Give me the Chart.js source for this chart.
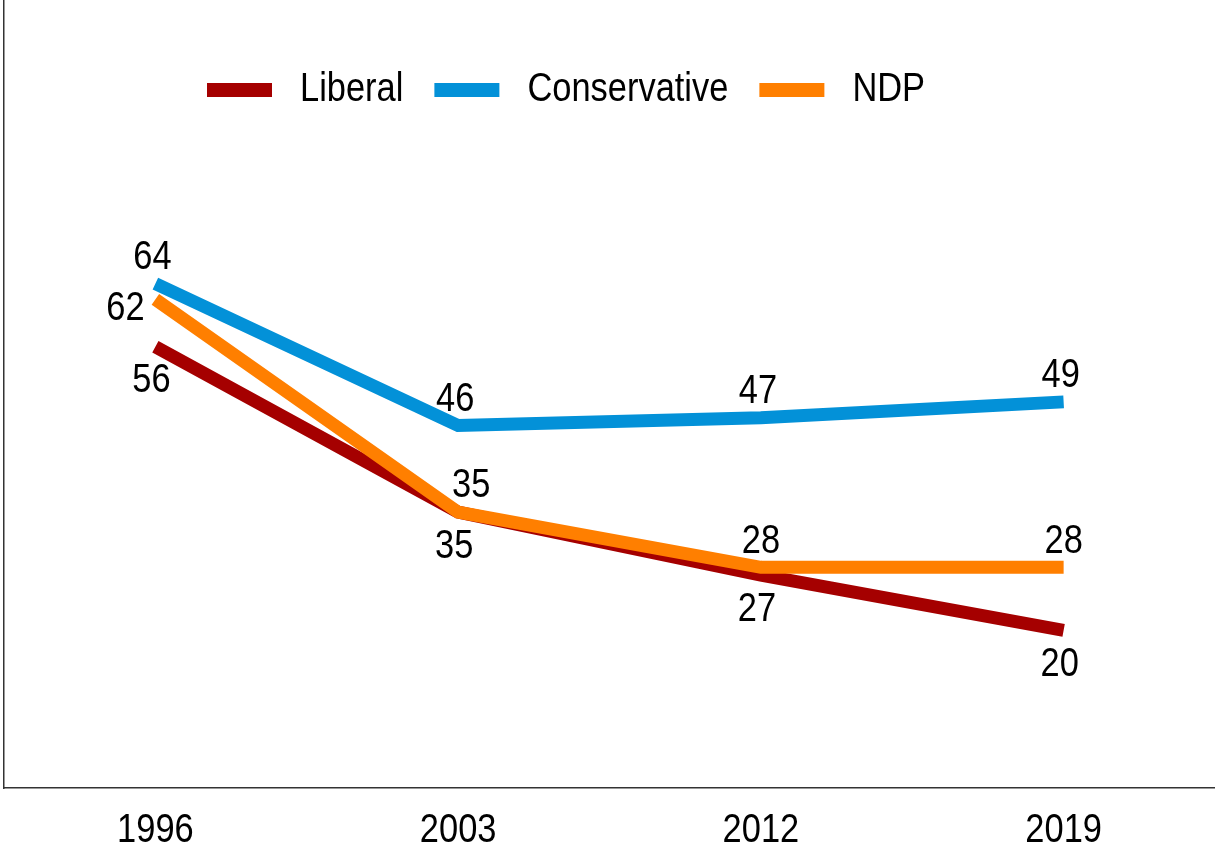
<!DOCTYPE html>
<html>
<head>
<meta charset="utf-8">
<script src="https://cdn.jsdelivr.net/npm/chart.js@4"></script>
<style>
	html, body { margin: 0; padding: 0; background: #fff; }
	#wrap { width: 1215px; height: 855px; }
</style>
</head>
<body>
<div id="wrap"><canvas id="chart"></canvas></div>
<script>
const years = ["1996", "2003", "2012", "2019"];
const liberal = [56, 35, 27, 20];
const conservative = [64, 46, 47, 49];
const ndp = [62, 35, 28, 28];

const FONT = "41px 'Liberation Sans', Arial, sans-serif";
const NARROW = 0.84; // squeeze text horizontally for a condensed look

// where each value label sits relative to its point
const labelPos = {
	Liberal: () => ({ dx: -4, dy: 34 }),
	Conservative: () => ({ dx: -3, dy: -26 }),
	NDP: (i) => i === 0 ? { dx: -30, dy: 9 } : (i === 1 ? { dx: 13, dy: -27 } : { dx: 0, dy: -26 })
};

function narrowText(ctx, text, x, y, align) {
	ctx.save();
	ctx.font = FONT;
	ctx.fillStyle = "#000";
	ctx.textBaseline = "middle";
	ctx.textAlign = align || "center";
	ctx.translate(x, y);
	ctx.scale(NARROW, 1);
	ctx.fillText(text, 0, 0);
	let w = ctx.measureText(text).width * NARROW;
	ctx.restore();
	return w;
}

const valueLabels = {
	id: "valueLabels",
	afterDatasetsDraw(chart) {
		chart.data.datasets.forEach((ds, di) => {
			let meta = chart.getDatasetMeta(di);
			meta.data.forEach((pt, i) => {
				let p = labelPos[ds.label](i);
				narrowText(chart.ctx, String(ds.data[i]), pt.x + p.dx, pt.y + p.dy);
			});
		});
	}
};

// category labels under the x axis
const yearLabels = {
	id: "yearLabels",
	afterDraw(chart) {
		let sx = chart.scales.x;
		sx.ticks.forEach((t, i) => {
			narrowText(chart.ctx, sx.getLabelForValue(t.value), sx.getPixelForTick(i), sx.bottom + 43);
		});
	}
};

// legend drawn over the plot area, line swatches then names
const lineLegend = {
	id: "lineLegend",
	afterDraw(chart) {
		let ctx = chart.ctx;
		let x = 207, y = 90;
		chart.data.datasets.forEach((ds) => {
			ctx.fillStyle = ds.borderColor;
			ctx.fillRect(x, y - 7, 65, 14);
			let w = narrowText(ctx, ds.label, x + 93, y, "left");
			x += 93 + w + 31;
		});
	}
};

function series(label, data, color, order) {
	return {
		label: label,
		data: data,
		borderColor: color,
		backgroundColor: color,
		borderWidth: 13,
		borderCapStyle: "butt",
		borderJoinStyle: "miter",
		pointRadius: 0,
		tension: 0,
		fill: false,
		order: order
	};
}

new Chart(document.getElementById("chart"), {
	type: "line",
	data: {
		labels: years,
		datasets: [
			series("Liberal", liberal, "#A50000", 3),
			series("Conservative", conservative, "#0391D8", 2),
			series("NDP", ndp, "#FF7F00", 1)
		]
	},
	options: {
		responsive: true,
		maintainAspectRatio: false,
		animation: false,
		layout: { padding: { left: 4, right: 0, top: 0, bottom: 67 } },
		plugins: {
			legend: { display: false },
			tooltip: { enabled: false }
		},
		scales: {
			x: {
				offset: true,
				grid: { display: false, drawTicks: false },
				border: { display: true, color: "#333", width: 1.5 },
				ticks: { display: false }
			},
			y: {
				min: 0,
				max: 100,
				grid: { display: false, drawTicks: false },
				border: { display: true, color: "#333", width: 1.5 },
				ticks: { display: false }
			}
		}
	},
	plugins: [valueLabels, yearLabels, lineLegend]
});
</script>
</body>
</html>
